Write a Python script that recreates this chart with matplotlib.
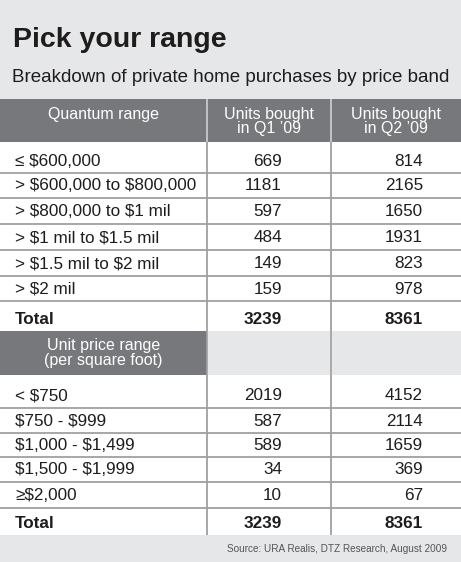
import matplotlib
matplotlib.use('Agg')
import matplotlib.pyplot as plt
from matplotlib.patches import Rectangle

plt.rcParams['text.parse_math'] = False

# ---- data ----
title = 'Pick your range'
subtitle = 'Breakdown of private home purchases by price band'
col_headers = ['Units bought\nin Q1 \u201909', 'Units bought\nin Q2 \u201909']

quantum_header = 'Quantum range'
quantum_labels = ['\u2264 $600,000', '> $600,000 to $800,000', '> $800,000 to $1 mil',
                  '> $1 mil to $1.5 mil', '> $1.5 mil to $2 mil', '> $2 mil']
quantum_q1 = [669, 1181, 597, 484, 149, 159]
quantum_q2 = [814, 2165, 1650, 1931, 823, 978]

psf_header = 'Unit price range\n(per square foot)'
psf_labels = ['< $750', '$750 - $999', '$1,000 - $1,499', '$1,500 - $1,999', '\u2265$2,000']
psf_q1 = [2019, 587, 589, 34, 10]
psf_q2 = [4152, 2114, 1659, 369, 67]

source = 'Source: URA Realis, DTZ Research, August 2009'

# ---- layout (pixels) ----
W, H = 461, 562
BG = '#e6e7e8'
DARK = '#77787b'
LINE = '#a0a0a0'
TXT = '#1f1c1d'
FONT = ['Liberation Sans', 'DejaVu Sans']
col_x = [0, 207, 331, W]
num_right = [282, 423]

fig = plt.figure(figsize=(W / 100, H / 100), dpi=100)
ax = fig.add_axes([0, 0, 1, 1])
ax.set_xlim(0, W)
ax.set_ylim(H, 0)
ax.axis('off')
fig.patch.set_facecolor(BG)

ax.text(13, 47, title, fontsize=20.5, fontweight='bold', family=FONT,
        color=TXT, va='baseline', ha='left')
ax.text(12, 82, subtitle, fontsize=13.5, family=FONT, color=TXT, va='baseline', ha='left')


def header(y0, y1, label, cols, label_y):
    ax.add_patch(Rectangle((0, y0), col_x[1], y1 - y0, color=DARK, lw=0))
    ax.text(col_x[1] / 2, label_y, label, color='white', fontsize=11.5, family=FONT,
            ha='center', va='center', linespacing=1.05)
    fill = DARK if cols else BG
    ax.add_patch(Rectangle((col_x[1], y0), W - col_x[1], y1 - y0, color=fill, lw=0))
    for i, c in enumerate(cols):
        ax.text((col_x[i + 1] + col_x[i + 2]) / 2, (y0 + y1) / 2 + 1, c, color='white',
                fontsize=11.5, family=FONT, ha='center', va='center', linespacing=1.0)
    for x in col_x[1:3]:
        ax.plot([x, x], [y0, y1], color='#d0d0d0' if cols else LINE, lw=1.2,
                solid_capstyle='butt')


def block(edges, labels, q1, q2):
    ax.add_patch(Rectangle((0, edges[0]), W, edges[-1] - edges[0], color='white', lw=0))
    rows = list(zip(labels, q1, q2)) + [('Total', sum(q1), sum(q2))]
    for i, (lab, a, b) in enumerate(rows):
        yb = edges[i + 1] - 7.5
        bold = 'bold' if lab == 'Total' else 'normal'
        ax.text(15, yb, lab, fontsize=12.3, family=FONT, fontweight=bold, color=TXT,
                ha='left', va='baseline')
        for xr, v in zip(num_right, (a, b)):
            ax.text(xr, yb, str(v), fontsize=12.3, family=FONT, fontweight=bold, color=TXT,
                    ha='right', va='baseline')
    for y in edges[1:-1]:
        ax.plot([0, W], [y, y], color=LINE, lw=1.3)
    for x in col_x[1:3]:
        ax.plot([x, x], [edges[0], edges[-1]], color=LINE, lw=1.3, solid_capstyle='butt')


header(99, 142, quantum_header, col_headers, 114)
block([142, 173, 198, 224, 250, 276, 301, 331], quantum_labels, quantum_q1, quantum_q2)
header(331, 375, psf_header, [], 353)
block([375, 408, 433, 457, 482, 508, 535], psf_labels, psf_q1, psf_q2)

ax.text(447, 552, source, fontsize=7.2, family=FONT, color='#555555', ha='right',
        va='baseline')

fig.savefig('out.png', dpi=100, facecolor=BG)
